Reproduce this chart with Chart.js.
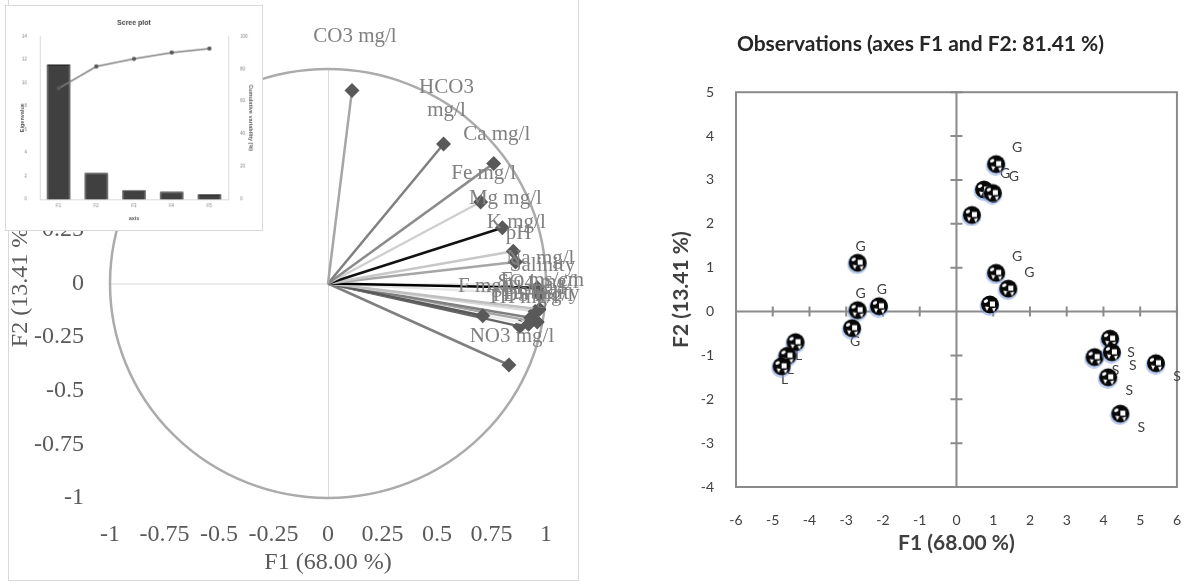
<!DOCTYPE html>
<html>
<head>
<meta charset="utf-8">
<script src="https://cdn.jsdelivr.net/npm/chart.js@4"></script>
<style>
  html, body { margin: 0; padding: 0; background: #fff; }
  body { width: 1184px; height: 584px; position: relative; overflow: hidden; }
  #panel { position: absolute; left: 8px; top: -1px; width: 569px; height: 580px; border: 1px solid #d9d9d9; }
  #pca { position: absolute; left: 0; top: 0; }
  #scree { position: absolute; left: 5px; top: 5px; background: #fff; border: 1px solid #d9d9d9; }
  #obs { position: absolute; left: 643px; top: 0; }
</style>
</head>
<body>
<div id="panel"></div>
<canvas id="pca" width="590" height="584"></canvas>
<canvas id="scree" width="258" height="226"></canvas>
<canvas id="obs" width="555" height="584"></canvas>

<script>
// ---- variables (correlation circle) ----
const variableNames = ["CO3 mg/l", "HCO3 mg/l", "Ca mg/l", "Fe mg/l", "Mg mg/l", "K mg/l", "pH",
  "Na mg/l", "Salinity", "Ec ms/cm", "F mg/l", "SO4 mg/l", "Cl mg/l", "TDS mg/l", "Turbidity", "TH mg/l", "NO3 mg/l"];
const f1Loadings = [0.11, 0.53, 0.76, 0.70, 0.80, 0.85, 0.86, 0.96, 0.97, 0.97, 0.71, 0.95, 0.93, 0.92, 0.96, 0.88, 0.83];
const f2Loadings = [0.90, 0.65, 0.56, 0.38, 0.26, 0.15, 0.10, -0.02, -0.05, -0.12, -0.15, -0.13, -0.16, -0.19, -0.18, -0.20, -0.38];
const circleTicks = [-1, -0.75, -0.5, -0.25, 0, 0.25, 0.5, 0.75, 1];

// ---- scree plot ----
const screeAxes = ["F1", "F2", "F3", "F4", "F5"];
const eigenvalues = [11.56, 2.28, 0.79, 0.66, 0.42];
const cumulativePct = [68.00, 81.41, 86.06, 89.94, 92.41];

// ---- observations ----
const obsNames = ["G", "G", "G", "G", "G", "G", "G", "G", "G", "G", "G", "L", "L", "L", "S", "S", "S", "S", "S", "S"];
const obsF1 = [1.08, 0.75, 0.99, 0.42, 1.08, 1.41, 0.91, -2.69, -2.69, -2.11, -2.84, -4.38, -4.60, -4.76, 4.18, 3.76, 4.23, 4.13, 4.46, 5.43];
const obsF2 = [3.35, 2.77, 2.69, 2.19, 0.87, 0.51, 0.15, 1.10, 0.02, 0.11, -0.39, -0.71, -1.02, -1.26, -0.63, -1.05, -0.94, -1.51, -2.34, -1.19];

// styling
const serif = '"Liberation Serif", "Times New Roman", serif';
const vectorShades = ["#a6a6a6", "#7f7f7f", "#8c8c8c", "#cfcfcf", "#111111", "#c8c8c8", "#a6a6a6",
  "#000000", "#e6e6e6", "#bfbfbf", "#595959", "#d9d9d9", "#808080", "#eeeeee", "#a6a6a6", "#666666", "#7f7f7f"];
const labelLift = { "CO3 mg/l": 54, "HCO3 mg/l": 34 };
const labelLines = { "HCO3 mg/l": ["HCO3", "mg/l"] };
const plainNumber = (v) => String(Math.round(v * 100) / 100);

Chart.defaults.font.family = "Lato, sans-serif";

// circle + zero lines behind the vectors
const circleBack = {
  id: "circleBack",
  beforeDatasetsDraw(chart) {
    const { ctx, chartArea, scales: { x, y } } = chart;
    const cx = x.getPixelForValue(0), cy = y.getPixelForValue(0);
    ctx.save();
    ctx.strokeStyle = "#d9d9d9";
    ctx.lineWidth = 1;
    ctx.beginPath();
    ctx.moveTo(cx + 0.5, chartArea.top);
    ctx.lineTo(cx + 0.5, chartArea.bottom);
    ctx.moveTo(chartArea.left, cy + 0.5);
    ctx.lineTo(chartArea.right, cy + 0.5);
    ctx.stroke();
    ctx.strokeStyle = "#ababab";
    ctx.lineWidth = 2.5;
    ctx.beginPath();
    ctx.ellipse(cx, cy, x.getPixelForValue(1) - cx, cy - y.getPixelForValue(1), 0, 0, Math.PI * 2);
    ctx.stroke();
    ctx.restore();
  }
};

const pcaLabels = {
  id: "pcaLabels",
  afterDatasetsDraw(chart) {
    const { ctx, scales: { x, y } } = chart;
    ctx.save();
    ctx.font = "21px " + serif;
    ctx.fillStyle = "#808080";
    ctx.textAlign = "center";
    ctx.textBaseline = "middle";
    variableNames.forEach((name, i) => {
      const px = x.getPixelForValue(f1Loadings[i]) + 3;
      const py = y.getPixelForValue(f2Loadings[i]) - (labelLift[name] || 29);
      const lines = labelLines[name] || [name];
      lines.slice().reverse().forEach((t, k) => ctx.fillText(t, px, py - k * 23));
    });
    ctx.restore();
  }
};

const serifBig = { family: serif, size: 24 };
new Chart(document.getElementById("pca"), {
  type: "scatter",
  data: {
    datasets: variableNames.map((name, i) => ({
      label: name,
      data: [{ x: 0, y: 0 }, { x: f1Loadings[i], y: f2Loadings[i] }],
      showLine: true,
      borderColor: vectorShades[i],
      borderWidth: 2.5,
      pointStyle: "rectRot",
      pointRadius: [0, 7.5],
      pointBackgroundColor: "#595959",
      pointBorderColor: "#595959",
      pointBorderWidth: 0
    }))
  },
  options: {
    responsive: false,
    animation: false,
    layout: { padding: { top: 69, right: 44, left: 0, bottom: 0 } },
    plugins: { legend: { display: false }, tooltip: { enabled: false } },
    scales: {
      x: {
        type: "linear", min: -1, max: 1,
        afterBuildTicks: (s) => { s.ticks = circleTicks.map(v => ({ value: v })); },
        ticks: { autoSkip: false, maxRotation: 0, minRotation: 0, color: "#595959", font: serifBig, padding: 14, callback: plainNumber },
        grid: { display: false }, border: { display: false },
        title: { display: true, text: "F1 (68.00 %)", color: "#595959", font: serifBig, padding: { top: 0, bottom: 7 } },
        afterFit: (s) => { s.height = 86; }
      },
      y: {
        type: "linear", min: -1, max: 1,
        afterBuildTicks: (s) => { s.ticks = circleTicks.map(v => ({ value: v })); },
        ticks: { autoSkip: false, color: "#595959", font: serifBig, padding: 18, callback: plainNumber },
        grid: { display: false }, border: { display: false },
        title: { display: true, text: "F2 (13.41 %)", color: "#595959", font: serifBig, padding: { top: 6, bottom: 0 } },
        afterFit: (s) => { s.width = 110; }
      }
    }
  },
  plugins: [circleBack, pcaLabels]
});

// ---- scree inset ----
const tiny = { family: '"Liberation Sans", Arial, sans-serif', size: 4.5 };
new Chart(document.getElementById("scree"), {
  data: {
    labels: screeAxes,
    datasets: [
      { type: "line", data: cumulativePct, yAxisID: "y1", borderColor: "#808080", borderWidth: 1.5,
        pointRadius: 1.4, pointBackgroundColor: "#595959", pointBorderColor: "#595959", order: 0 },
      { type: "bar", data: eigenvalues, yAxisID: "y", backgroundColor: "#404040", borderColor: "#1a1a1a",
        borderWidth: 1, barPercentage: 0.62, categoryPercentage: 1, order: 1 }
    ]
  },
  options: {
    responsive: false,
    animation: false,
    layout: { padding: 0 },
    plugins: {
      legend: { display: false }, tooltip: { enabled: false },
      title: { display: true, text: "Scree plot", color: "#404040",
        font: { family: '"Liberation Sans", Arial, sans-serif', size: 7, weight: "bold" }, padding: { top: 13, bottom: 9 } }
    },
    scales: {
      x: {
        ticks: { color: "#7f7f7f", font: tiny, padding: 4 },
        grid: { display: false, drawTicks: false }, border: { display: true, color: "#d9d9d9" },
        title: { display: true, text: "axis", color: "#595959", font: { ...tiny, size: 5.5, weight: "bold" }, padding: { top: 0, bottom: 8 } },
        afterFit: (s) => { s.height = 31; }
      },
      y: {
        position: "left", min: 0, max: 14,
        ticks: { stepSize: 2, color: "#7f7f7f", font: tiny, padding: 5 },
        grid: { display: false }, border: { display: true, color: "#d9d9d9" },
        title: { display: true, text: "Eigenvalue", color: "#595959", font: { ...tiny, size: 5.5, weight: "bold" }, padding: { top: 13, bottom: 0 } },
        afterFit: (s) => { s.width = 34; }
      },
      y1: {
        position: "right", min: 0, max: 100,
        ticks: { stepSize: 20, color: "#7f7f7f", font: tiny, padding: 4 },
        grid: { display: false }, border: { display: true, color: "#d9d9d9" },
        title: { display: true, text: "Cumulative variability (%)", color: "#595959", font: { ...tiny, size: 5.5, weight: "bold" }, padding: { top: 8, bottom: 0 } },
        afterFit: (s) => { s.width = 34; }
      }
    }
  }
});

// ---- observations ----
function makeBall() {
  const c = document.createElement("canvas");
  c.width = 22; c.height = 22;
  const g = c.getContext("2d");
  g.fillStyle = "rgba(130,160,225,0.55)";
  g.beginPath(); g.arc(10.5, 12, 10, 0, Math.PI * 2); g.fill();
  g.fillStyle = "#080808";
  g.beginPath(); g.arc(11, 10.5, 9, 0, Math.PI * 2); g.fill();
  g.fillStyle = "#ffffff";
  g.beginPath(); g.ellipse(7, 7.2, 2.3, 1.6, -0.5, 0, Math.PI * 2); g.fill();
  g.fillRect(11, 7.5, 5, 5);
  g.beginPath(); g.moveTo(6, 12.5); g.lineTo(10, 13); g.lineTo(8, 17); g.closePath(); g.fill();
  g.beginPath(); g.moveTo(13, 14.5); g.lineTo(17, 13.5); g.lineTo(15, 18); g.closePath(); g.fill();
  return c;
}
const ball = makeBall();

const obsFrame = {
  id: "obsFrame",
  beforeDatasetsDraw(chart) {
    const { ctx, chartArea: a, scales: { x, y } } = chart;
    const cx = x.getPixelForValue(0), cy = y.getPixelForValue(0);
    ctx.save();
    ctx.strokeStyle = "#8a8a8a";
    ctx.lineWidth = 2;
    ctx.strokeRect(a.left, a.top, a.right - a.left, a.bottom - a.top);
    ctx.beginPath();
    ctx.moveTo(cx, a.top); ctx.lineTo(cx, a.bottom);
    ctx.moveTo(a.left, cy); ctx.lineTo(a.right, cy);
    x.ticks.forEach(t => { const p = x.getPixelForValue(t.value); ctx.moveTo(p, cy - 5); ctx.lineTo(p, cy + 5); });
    y.ticks.forEach(t => { const p = y.getPixelForValue(t.value); ctx.moveTo(cx - 6, p); ctx.lineTo(cx + 6, p); });
    ctx.stroke();
    // point labels sit under the markers
    ctx.font = "14px Lato, sans-serif";
    ctx.fillStyle = "#404040";
    ctx.textAlign = "center";
    ctx.textBaseline = "middle";
    obsNames.forEach((n, i) => {
      const px = x.getPixelForValue(obsF1[i]) + (obsF1[i] > 0 ? 21 : 3);
      const py = y.getPixelForValue(obsF2[i]) + (obsF2[i] >= 0 ? -17 : 13);
      ctx.fillText(n, px, py);
    });
    ctx.restore();
  }
};

const axisTitle = { family: "Lato, sans-serif", size: 21, weight: "bold" };
new Chart(document.getElementById("obs"), {
  type: "scatter",
  data: {
    datasets: [{
      data: obsF1.map((v, i) => ({ x: v, y: obsF2[i] })),
      pointStyle: ball,
      pointRadius: 10
    }]
  },
  options: {
    responsive: false,
    animation: false,
    layout: { padding: 0 },
    plugins: {
      legend: { display: false }, tooltip: { enabled: false },
      title: { display: true, text: "Observations (axes F1 and F2: 81.41 %)", color: "#262626",
        font: axisTitle, padding: { top: 32, bottom: 35 } }
    },
    scales: {
      x: {
        type: "linear", min: -6, max: 6,
        ticks: { stepSize: 1, autoSkip: false, maxRotation: 0, color: "#404040", font: { size: 14 }, padding: 17 },
        grid: { display: false }, border: { display: false },
        title: { display: true, text: "F1 (68.00 %)", color: "#404040", font: axisTitle, padding: { top: 0, bottom: 28 } },
        afterFit: (s) => { s.height = 97; }
      },
      y: {
        type: "linear", min: -4, max: 5,
        ticks: { stepSize: 1, color: "#404040", font: { size: 14 }, padding: 14 },
        grid: { display: false }, border: { display: false },
        title: { display: true, text: "F2 (13.41 %)", color: "#404040", font: axisTitle, padding: { top: 26, bottom: 0 } },
        afterFit: (s) => { s.width = 93; }
      }
    }
  },
  plugins: [obsFrame]
});
</script>
</body>
</html>
